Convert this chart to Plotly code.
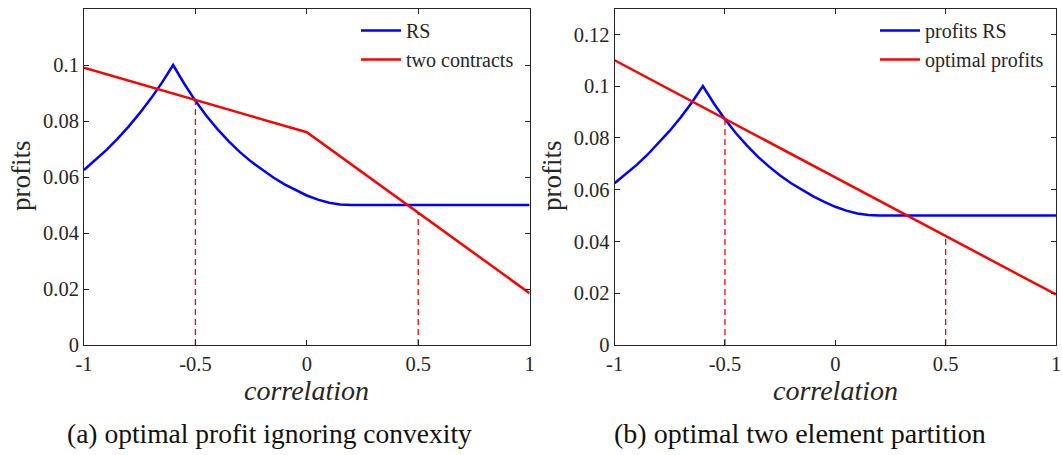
import plotly.graph_objects as go

# ---- data ----
rs_x = [-1.0, -0.95, -0.9, -0.85, -0.8, -0.75, -0.7, -0.65, -0.6,
        -0.55, -0.5, -0.45, -0.4, -0.35, -0.3, -0.25, -0.2, -0.15, -0.1,
        -0.05, 0.0, 0.05, 0.1, 0.15, 0.2, 0.4, 0.6, 0.8, 1.0]
rs_y = [0.0625, 0.0659, 0.0696, 0.0736, 0.0780, 0.0828, 0.0880, 0.0937, 0.1000,
        0.0933, 0.0872, 0.0818, 0.0770, 0.0727, 0.0689, 0.0655, 0.0625, 0.0598, 0.0574,
        0.0553, 0.0534, 0.0519, 0.0508, 0.0502, 0.0500, 0.0500, 0.0500, 0.0500, 0.0500]

two_x = [-1.0, 0.0, 1.0]
two_y = [0.099, 0.076, 0.0185]

opt_x = [-1.0, 1.0]
opt_y = [0.110, 0.0195]

dash_left_x1 = [-0.5, -0.5]
dash_left_y1 = [0.0, 0.0875]
dash_left_x2 = [0.5, 0.5]
dash_left_y2 = [0.0, 0.0472]

dash_right_x1 = [-0.5, -0.5]
dash_right_y1 = [0.0, 0.0874]
dash_right_x2 = [0.5, 0.5]
dash_right_y2 = [0.0, 0.0421]

x_ticks = [-1, -0.5, 0, 0.5, 1]
x_ticklabels = ["-1", "-0.5", "0", "0.5", "1"]
y_ticks = [0, 0.02, 0.04, 0.06, 0.08, 0.1, 0.12]
y_ticklabels = ["0", "0.02", "0.04", "0.06", "0.08", "0.1", "0.12"]

BLUE = "#0000ff"
RED = "#ff0000"
SERIF = "Liberation Serif"
W, H = 1062, 455

fig = go.Figure()

# left panel
fig.add_trace(go.Scatter(x=rs_x, y=rs_y, mode="lines", name="RS",
                         line=dict(color=BLUE, width=2.5), xaxis="x", yaxis="y", legend="legend"))
fig.add_trace(go.Scatter(x=two_x, y=two_y, mode="lines", name="two contracts",
                         line=dict(color=RED, width=2.5), xaxis="x", yaxis="y", legend="legend"))
for dx, dy in [(dash_left_x1, dash_left_y1), (dash_left_x2, dash_left_y2)]:
    fig.add_trace(go.Scatter(x=dx, y=dy, mode="lines", showlegend=False,
                             line=dict(color=RED, width=1.3, dash="6px,4px"), xaxis="x", yaxis="y"))

# right panel
fig.add_trace(go.Scatter(x=rs_x, y=rs_y, mode="lines", name="profits RS",
                         line=dict(color=BLUE, width=2.5), xaxis="x2", yaxis="y2", legend="legend2"))
fig.add_trace(go.Scatter(x=opt_x, y=opt_y, mode="lines", name="optimal profits",
                         line=dict(color=RED, width=2.5), xaxis="x2", yaxis="y2", legend="legend2"))
for dx, dy in [(dash_right_x1, dash_right_y1), (dash_right_x2, dash_right_y2)]:
    fig.add_trace(go.Scatter(x=dx, y=dy, mode="lines", showlegend=False,
                             line=dict(color=RED, width=1.3, dash="6px,4px"), xaxis="x2", yaxis="y2"))

axis_common = dict(showline=True, linecolor="#262626", linewidth=1, mirror="ticks",
                   ticks="inside", ticklen=5, tickcolor="#262626", showgrid=False,
                   zeroline=False, automargin=False,
                   tickfont=dict(family=SERIF, size=20.5, color="#262626"))


def px_x(p):
    return p / W


def px_y(p):
    return (H - p) / H


fig.update_layout(
    width=W, height=H, autosize=False,
    margin=dict(l=0, r=0, t=0, b=0, pad=0),
    paper_bgcolor="white", plot_bgcolor="white",
    xaxis=dict(domain=[px_x(84), px_x(529.6)], range=[-1, 1], tickvals=x_ticks, ticktext=x_ticklabels,
               anchor="y", **axis_common),
    yaxis=dict(domain=[px_y(345), px_y(9)], range=[0, 0.12], tickvals=y_ticks, ticktext=y_ticklabels,
               anchor="x", **axis_common),
    xaxis2=dict(domain=[px_x(614.6), px_x(1056)], range=[-1, 1], tickvals=x_ticks, ticktext=x_ticklabels,
                anchor="y2", **axis_common),
    yaxis2=dict(domain=[px_y(345), px_y(8.5)], range=[0, 0.13], tickvals=y_ticks, ticktext=y_ticklabels,
                anchor="x2", **axis_common),
    legend=dict(x=px_x(356), y=px_y(11), xanchor="left", yanchor="top", bgcolor="rgba(0,0,0,0)",
                font=dict(family=SERIF, size=20, color="#262626"), itemwidth=40,
                tracegroupgap=0),
    legend2=dict(x=px_x(875), y=px_y(11), xanchor="left", yanchor="top", bgcolor="rgba(0,0,0,0)",
                 font=dict(family=SERIF, size=20, color="#262626"), itemwidth=40,
                 tracegroupgap=0),
)

ann = []
# axis labels
for cx in (306.8, 835.3):
    ann.append(dict(text="<i>correlation</i>", x=px_x(cx), y=px_y(390), xref="paper", yref="paper",
                    xanchor="center", yanchor="middle",
                    showarrow=False, font=dict(family=SERIF, size=28, color="#262626")))
for cx in (21, 552):
    ann.append(dict(text="profits", x=px_x(cx), y=px_y(176), xref="paper", yref="paper",
                    xanchor="center", yanchor="middle",
                    showarrow=False, textangle=-90, font=dict(family=SERIF, size=27, color="#262626")))
# captions
ann.append(dict(text="(a) optimal profit ignoring convexity", x=px_x(269), y=px_y(433),
                xref="paper", yref="paper", xanchor="center", yanchor="middle", showarrow=False,
                font=dict(family=SERIF, size=27.5, color="#111111")))
ann.append(dict(text="(b) optimal two element partition", x=px_x(800), y=px_y(433),
                xref="paper", yref="paper", xanchor="center", yanchor="middle", showarrow=False,
                font=dict(family=SERIF, size=28, color="#111111")))
fig.update_layout(annotations=ann)

fig.write_html("out.html")
